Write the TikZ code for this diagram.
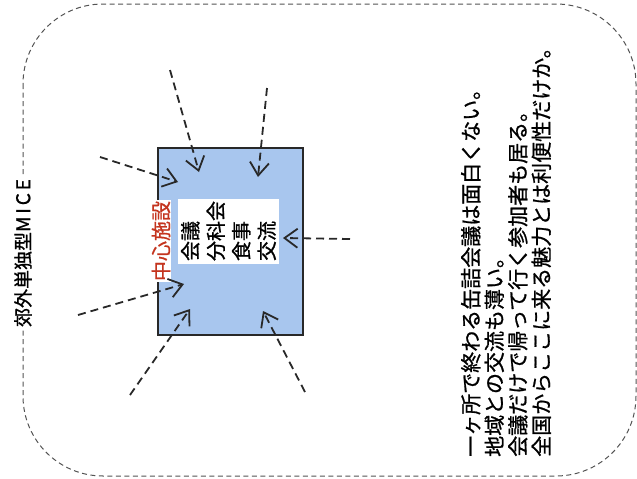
\documentclass[tikz,border=0pt]{standalone}
\usepackage{fontspec}
\setmainfont{Noto Sans CJK JP}[FakeBold=0.9]
\usetikzlibrary{arrows.meta}
\definecolor{boxblue}{RGB}{168,198,238}
\definecolor{labelred}{RGB}{196,52,30}
\definecolor{ink}{RGB}{40,40,40}
\begin{document}
\begin{tikzpicture}[x=1pt,y=-1pt,
  frame/.style={draw=ink!80, line width=1pt, dash pattern=on 5pt off 3.5pt, rounded corners=80pt},
  flow/.style={draw=ink, line width=1.8pt, dash pattern=on 8pt off 5pt, -{Straight Barb[length=13pt,width=19pt]}},
  facility/.style={draw=ink, line width=1.5pt, fill=boxblue, minimum width=145pt, minimum height=187pt, inner sep=0pt},
  vtext/.style={rotate=90, inner sep=0pt, align=left},
  whitebox/.style={fill=white, rotate=90, align=left, inner sep=2.5pt}]
\useasboundingbox (0,0) rectangle (637,479);
% outer dashed frame
\draw[frame] (23,4) rectangle (636,476);
\node[fill=white, rotate=90, inner sep=3pt, font=\fontsize{19}{19}\selectfont] (kind) at (23,253)
  {郊外単独型{\addfontfeature{LetterSpace=15}MICE}};
% facility box
\node[facility] (fac) at (230.5,241.5) {};
\node[whitebox, font=\fontsize{20}{25.5}\selectfont] (acts) at (228.5,231)
  {会議\\分科会\\食事\\交流};
\node[fill=white, rotate=90, inner sep=1pt, text=labelred, font=\fontsize{20}{20}\selectfont] (center) at (161,241) {中心施設};
% flows
\coordinate (s1) at (170,70);  \coordinate (t1) at (199,172);
\coordinate (s2) at (267,88);  \coordinate (t2) at (258,177);
\coordinate (s3) at (100,157); \coordinate (t3) at (178,182);
\coordinate (s4) at (350,239); \coordinate (t4) at (283,238);
\coordinate (s5) at (78,315);  \coordinate (t5) at (184,284);
\coordinate (s6) at (130,395); \coordinate (t6) at (190,309);
\coordinate (s7) at (305,392); \coordinate (t7) at (263,311);
\foreach \i in {1,...,7} {\draw[flow] (s\i) -- (t\i);}
% comment text
\node[vtext, anchor=west, font=\fontsize{21}{23.5}\selectfont] (msg) at (506,457)
  {一ヶ所で終わる缶詰会議は面白くない。\\
   地域との交流も薄い。\\
   会議だけで帰って行く参加者も居る。\\
   全国からここに来る魅力とは利便性だけか。};
\end{tikzpicture}
\end{document}
